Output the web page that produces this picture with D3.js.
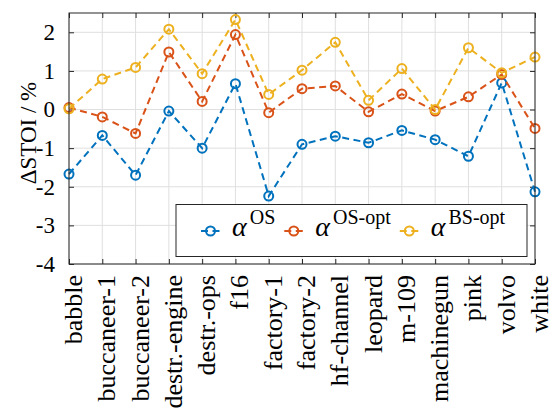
<!DOCTYPE html>
<html>
<head>
<meta charset="utf-8">
<script src="https://cdn.jsdelivr.net/npm/d3@7"></script>
<style>
  body { margin: 0; background: #fff; }
</style>
</head>
<body>
<div id="chart"></div>
<script>
const categories = ["babble", "buccaneer-1", "buccaneer-2", "destr.-engine", "destr.-ops", "f16",
  "factory-1", "factory-2", "hf-channel", "leopard", "m-109", "machinegun", "pink", "volvo", "white"];

const alphaOS     = [-1.67, -0.67, -1.70, -0.04, -1.00, 0.67, -2.24, -0.90, -0.69, -0.86, -0.54, -0.78, -1.21, 0.69, -2.13];
const alphaOSopt  = [0.05, -0.19, -0.62, 1.49, 0.21, 1.94, -0.08, 0.54, 0.61, -0.06, 0.40, -0.04, 0.33, 0.91, -0.49];
const alphaBSopt  = [0.02, 0.79, 1.09, 2.08, 0.93, 2.33, 0.39, 1.02, 1.74, 0.24, 1.06, 0.00, 1.60, 0.95, 1.36];

const yTicks = [-4, -3, -2, -1, 0, 1, 2];
const seriesNames = ["OS", "OS-opt", "BS-opt"];
const colors = ["#0072BD", "#D95319", "#EDB120"];

const FONT = "Liberation Serif";

const W = 553, H = 412;
const margin = { top: 13, right: 18, bottom: 148, left: 69 };

const svg = d3.select("#chart").append("svg")
  .attr("width", W).attr("height", H)
  .style("display", "block");

const x = d3.scalePoint()
  .domain(categories)
  .range([margin.left, W - margin.right])
  .padding(0);

const y = d3.scaleLinear()
  .domain([-4, 2.5])
  .range([H - margin.bottom, margin.top]);

const x0 = margin.left, x1 = W - margin.right;
const y0 = H - margin.bottom, y1 = margin.top;

// grid
const grid = svg.append("g").attr("stroke", "#dfdfdf").attr("stroke-width", 1);
grid.selectAll(".gx").data(categories).join("line")
  .attr("x1", d => x(d)).attr("x2", d => x(d))
  .attr("y1", y0).attr("y2", y1);
grid.selectAll(".gy").data(yTicks).join("line")
  .attr("x1", x0).attr("x2", x1)
  .attr("y1", d => y(d)).attr("y2", d => y(d));

// axes (ticks inward)
const tickLen = 5;
svg.append("g")
  .attr("transform", `translate(${x0},0)`)
  .call(d3.axisLeft(y).tickValues(yTicks).tickSize(-tickLen).tickPadding(14).tickFormat(d => String(d)))
  .call(g => g.select(".domain").remove())
  .call(g => g.selectAll("line").attr("stroke", "#262626"))
  .call(g => g.selectAll("text")
    .style("font-family", FONT)
    .style("font-size", "23px")
    .attr("fill", "#000"));

svg.append("g")
  .attr("transform", `translate(${x1},0)`)
  .call(d3.axisRight(y).tickValues(yTicks).tickSize(-tickLen).tickFormat(""))
  .call(g => g.select(".domain").remove())
  .call(g => g.selectAll("line").attr("stroke", "#262626"));

svg.append("g")
  .attr("transform", `translate(0,${y0})`)
  .call(d3.axisBottom(x).tickSize(-tickLen).tickFormat(""))
  .call(g => g.select(".domain").remove())
  .call(g => g.selectAll("line").attr("stroke", "#262626"));

svg.append("g")
  .attr("transform", `translate(0,${y1})`)
  .call(d3.axisTop(x).tickSize(-tickLen).tickFormat(""))
  .call(g => g.select(".domain").remove())
  .call(g => g.selectAll("line").attr("stroke", "#262626"));

// x labels rotated
svg.append("g").selectAll("text").data(categories).join("text")
  .attr("transform", d => `translate(${x(d)},${y0 + 11}) rotate(-90)`)
  .attr("y", 13)
  .attr("text-anchor", "end")
  .style("font-family", FONT)
  .style("font-size", "26px")
  .attr("fill", "#000")
  .text(d => d);

// y label
svg.append("text")
  .attr("transform", `translate(36,133) rotate(-90)`)
  .attr("text-anchor", "middle")
  .style("font-family", FONT)
  .style("font-size", "23px")
  .attr("fill", "#000")
  .text("ΔSTOI / %");

// lines
const series = [alphaOS, alphaOSopt, alphaBSopt];
const line = d3.line()
  .x((d, i) => x(categories[i]))
  .y(d => y(d));

series.forEach((vals, s) => {
  svg.append("path")
    .datum(vals)
    .attr("fill", "none")
    .attr("stroke", colors[s])
    .attr("stroke-width", 2)
    .attr("stroke-dasharray", "7,4.5")
    .attr("d", line);

  svg.append("g").selectAll("circle").data(vals).join("circle")
    .attr("cx", (d, i) => x(categories[i]))
    .attr("cy", d => y(d))
    .attr("r", 4.5)
    .attr("fill", "none")
    .attr("stroke", colors[s])
    .attr("stroke-width", 2);
});

// box
svg.append("rect")
  .attr("x", x0).attr("y", y1)
  .attr("width", x1 - x0).attr("height", y0 - y1)
  .attr("fill", "none")
  .attr("stroke", "#262626")
  .attr("stroke-width", 1);

// legend
const legend = svg.append("g");
legend.append("rect")
  .attr("x", 176).attr("y", 204.5)
  .attr("width", 351).attr("height", 52)
  .attr("fill", "#fff")
  .attr("stroke", "#262626")
  .attr("stroke-width", 1);

let lx = 199;
const ly = 231;
seriesNames.forEach((name, s) => {
  legend.append("line")
    .attr("x1", lx).attr("x2", lx + 23)
    .attr("y1", ly).attr("y2", ly)
    .attr("stroke", colors[s])
    .attr("stroke-width", 2)
    .attr("stroke-dasharray", "7,4.5")
    .attr("stroke-dashoffset", -2);
  legend.append("circle")
    .attr("cx", lx + 11.5).attr("cy", ly)
    .attr("r", 4.5)
    .attr("fill", "none")
    .attr("stroke", colors[s])
    .attr("stroke-width", 2);
  const t = legend.append("text")
    .attr("x", lx + 33)
    .attr("y", 236)
    .style("font-family", FONT)
    .attr("fill", "#000");
  t.append("tspan")
    .style("font-style", "italic")
    .style("font-size", "28px")
    .text("α");
  t.append("tspan")
    .style("font-size", "20px")
    .attr("dx", 3)
    .attr("dy", -12)
    .text(name);
  lx = lx + 33 + t.node().getComputedTextLength() + 10;
});
</script>
</body>
</html>
